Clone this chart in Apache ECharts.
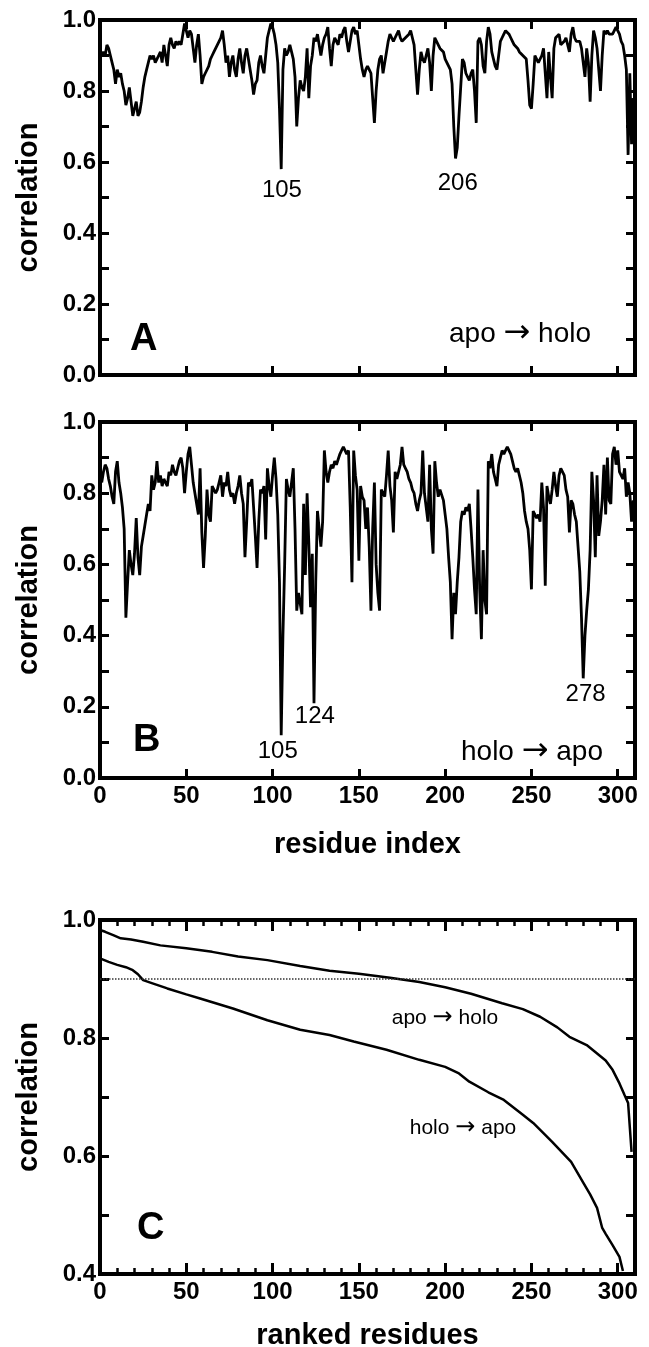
<!DOCTYPE html>
<html><head><meta charset="utf-8">
<script src="https://cdn.jsdelivr.net/npm/echarts@6/dist/echarts.min.js"></script>
<style>html,body{margin:0;padding:0;background:#fff}#c{width:649px;height:1347px}</style>
</head><body><div id="c"></div>
<script>
// Panel A: apo -> holo correlation per residue (residues 1..309)
const apoToHolo = [
0.90,0.91,0.90,0.93,0.92,0.90,0.88,0.86,0.82,0.86,
0.84,0.85,0.82,0.80,0.76,0.78,0.81,0.77,0.73,0.75,
0.77,0.73,0.74,0.77,0.81,0.84,0.86,0.88,0.90,0.89,
0.90,0.88,0.89,0.90,0.91,0.88,0.93,0.90,0.87,0.93,
0.95,0.93,0.92,0.94,0.93,0.94,0.93,0.96,0.99,0.97,
0.95,0.97,0.96,0.92,0.88,0.93,0.96,0.90,0.82,0.84,
0.85,0.85,0.87,0.89,0.90,0.91,0.92,0.93,0.94,0.95,
0.97,0.93,0.88,0.90,0.84,0.88,0.90,0.86,0.84,0.89,
0.92,0.88,0.85,0.90,0.92,0.89,0.86,0.83,0.79,0.82,
0.83,0.88,0.90,0.87,0.85,0.90,0.95,0.97,0.99,0.98,
0.96,0.93,0.88,0.75,0.58,0.86,0.92,0.90,0.91,0.93,
0.91,0.89,0.84,0.70,0.78,0.83,0.81,0.80,0.84,0.92,
0.78,0.87,0.90,0.95,0.94,0.96,0.93,0.90,0.93,0.95,
0.96,0.98,0.92,0.87,0.93,0.95,0.94,0.93,0.96,0.95,
0.97,0.98,0.94,0.91,0.94,0.97,0.98,0.96,0.97,0.93,
0.89,0.86,0.84,0.86,0.87,0.86,0.85,0.78,0.71,0.80,
0.86,0.89,0.90,0.85,0.88,0.91,0.94,0.96,0.95,0.94,
0.95,0.96,0.97,0.95,0.94,0.94,0.95,0.95,0.96,0.97,
0.95,0.93,0.86,0.79,0.86,0.91,0.89,0.88,0.90,0.92,
0.88,0.80,0.90,0.95,0.94,0.93,0.92,0.92,0.91,0.89,
0.88,0.87,0.86,0.82,0.70,0.61,0.64,0.73,0.81,0.89,
0.88,0.85,0.84,0.83,0.85,0.86,0.80,0.71,0.94,0.95,
0.93,0.87,0.85,0.94,0.98,0.96,0.91,0.89,0.87,0.86,
0.90,0.94,0.95,0.96,0.97,0.97,0.96,0.95,0.94,0.93,
0.93,0.92,0.91,0.91,0.90,0.90,0.89,0.83,0.76,0.75,
0.82,0.90,0.89,0.88,0.88,0.90,0.92,0.85,0.78,0.91,
0.84,0.78,0.92,0.95,0.95,0.96,0.93,0.93,0.94,0.95,
0.93,0.91,0.96,0.98,0.95,0.94,0.94,0.94,0.92,0.88,
0.84,0.92,0.88,0.77,0.90,0.97,0.95,0.92,0.86,0.80,
0.90,0.97,0.96,0.97,0.96,0.96,0.96,0.97,0.98,0.97,
0.96,0.94,0.93,0.90,0.86,0.62,0.85,0.65,0.78
];
// Panel B: holo -> apo correlation per residue (residues 1..309)
const holoToApo = [
0.83,0.86,0.88,0.87,0.84,0.82,0.79,0.77,0.86,0.89,
0.83,0.80,0.76,0.70,0.45,0.55,0.64,0.60,0.57,0.63,
0.73,0.62,0.57,0.65,0.68,0.71,0.74,0.77,0.75,0.85,
0.81,0.83,0.89,0.83,0.85,0.82,0.84,0.83,0.82,0.86,
0.85,0.88,0.86,0.85,0.87,0.89,0.90,0.87,0.80,0.86,
0.91,0.93,0.88,0.83,0.80,0.80,0.74,0.87,0.69,0.59,
0.68,0.81,0.74,0.72,0.82,0.81,0.80,0.81,0.83,0.85,
0.79,0.83,0.82,0.86,0.81,0.79,0.80,0.77,0.80,0.82,
0.85,0.80,0.77,0.62,0.72,0.83,0.82,0.84,0.76,0.68,
0.59,0.72,0.81,0.80,0.82,0.67,0.87,0.82,0.79,0.85,
0.90,0.84,0.74,0.55,0.12,0.40,0.60,0.84,0.81,0.79,
0.83,0.87,0.70,0.47,0.52,0.49,0.46,0.77,0.57,0.80,
0.66,0.48,0.63,0.21,0.55,0.75,0.70,0.65,0.72,0.92,
0.86,0.83,0.86,0.88,0.87,0.89,0.88,0.88,0.91,0.92,
0.93,0.93,0.91,0.92,0.76,0.55,0.92,0.85,0.81,0.61,
0.82,0.79,0.78,0.70,0.76,0.65,0.47,0.70,0.83,0.60,
0.52,0.47,0.81,0.80,0.79,0.85,0.92,0.82,0.78,0.69,
0.86,0.84,0.84,0.88,0.93,0.88,0.87,0.86,0.84,0.83,
0.81,0.80,0.77,0.75,0.78,0.80,0.92,0.80,0.76,0.72,
0.88,0.70,0.63,0.89,0.83,0.79,0.81,0.81,0.78,0.74,
0.70,0.62,0.55,0.39,0.52,0.46,0.55,0.62,0.72,0.75,
0.74,0.76,0.75,0.77,0.70,0.62,0.53,0.46,0.81,0.53,
0.39,0.64,0.50,0.46,0.89,0.87,0.91,0.86,0.84,0.82,
0.88,0.90,0.92,0.91,0.92,0.93,0.93,0.91,0.89,0.87,
0.86,0.87,0.85,0.83,0.80,0.75,0.72,0.70,0.64,0.53,
0.75,0.74,0.73,0.74,0.72,0.83,0.76,0.54,0.82,0.79,
0.77,0.81,0.86,0.82,0.79,0.85,0.87,0.86,0.85,0.81,
0.79,0.69,0.78,0.77,0.74,0.72,0.65,0.58,0.45,0.28,
0.40,0.47,0.53,0.64,0.86,0.78,0.62,0.85,0.68,0.72,
0.78,0.88,0.74,0.90,0.78,0.77,0.91,0.93,0.88,0.92,
0.86,0.86,0.84,0.87,0.79,0.83,0.80,0.72,0.78
];
// Panel C: ranked correlations
const rankedApoRank = [0,3,8,12,18,25,35,50,65,80,97,116,133,150,168,185,200,215,233,245,255,265,272,282,293,297,301,304,306,308];
const rankedApoCorr = [0.983,0.980,0.974,0.969,0.967,0.963,0.957,0.952,0.946,0.938,0.932,0.922,0.914,0.909,0.902,0.895,0.886,0.875,0.859,0.849,0.836,0.818,0.802,0.788,0.762,0.746,0.723,0.703,0.690,0.607];
const rankedHoloRank = [0,5,10,15,19,22,25,30,39,50,58,77,97,116,133,147,166,185,200,208,214,225,234,245,251,262,273,280,284,288,291,293,297,301,303];
const rankedHoloCorr = [0.935,0.929,0.924,0.920,0.915,0.908,0.898,0.893,0.884,0.874,0.867,0.850,0.830,0.814,0.805,0.794,0.780,0.763,0.751,0.740,0.726,0.708,0.695,0.670,0.656,0.624,0.590,0.555,0.535,0.512,0.478,0.468,0.449,0.429,0.405];
const threshold = 0.9;
// Peak annotations: [label, residue, correlation at label centre]
const peaksA = [['105',105.4,0.521],['206',207.3,0.541]];
const peaksB = [['105',103,0.075],['124',124.5,0.173],['278',281.4,0.235]];
const xTickStep = 50, xMinorStep = 10, xMax = 310;

const FONT = '"Liberation Sans", Arial, Helvetica, sans-serif';
const ARROW_FONT = '"DejaVu Sans", sans-serif';
const chart = echarts.init(document.getElementById('c'), null, {renderer:'canvas'});

const gridBase = {show:true, borderColor:'#000', borderWidth:4, backgroundColor:'transparent', containLabel:false, outerBoundsMode:'none'};
const grids = [
  Object.assign({left:100, top:20, width:535, height:355}, gridBase),
  Object.assign({left:100, top:422, width:535, height:356}, gridBase),
  Object.assign({left:100, top:920, width:535, height:354}, gridBase)
];
const tickStyle = (len, w) => ({show:true, inside:true, length:len, lineStyle:{color:'#000', width:w}});
const xLabel = {show:true, margin:6, color:'#000', fontSize:24, fontWeight:'bold', fontFamily:FONT,
  formatter: v => (v % xTickStep === 0 ? String(v) : '')};
const yLabel = {show:true, margin:4, color:'#000', fontSize:24, fontWeight:'bold', fontFamily:FONT,
  formatter: v => { const t = Math.round(v*10); return t % 2 === 0 ? (t/10).toFixed(1) : ''; }};
const nameStyle = {fontSize:29, fontWeight:'bold', color:'#000', fontFamily:FONT};

function xAx(grid, pos, step, tick, label, name, gap) {
  return {type:'value', gridIndex:grid, position:pos, min:0, max:xMax, interval:step,
    axisLine:{show:false, onZero:false}, splitLine:{show:false},
    axisTick:tick, axisLabel: label ? xLabel : {show:false},
    name: name || '', nameLocation:'middle', nameGap: gap || 0, nameTextStyle:nameStyle};
}
function yAx(grid, pos, min, label) {
  return {type:'value', gridIndex:grid, position:pos, min:min, max:1.0, interval:0.1,
    axisLine:{show:false, onZero:false}, splitLine:{show:false},
    axisTick:tickStyle(9,3), axisLabel: label ? yLabel : {show:false},
    name: label ? 'correlation' : '', nameLocation:'middle', nameGap:57, nameTextStyle:nameStyle};
}

const xAxes = [
  xAx(0,'bottom',xTickStep,tickStyle(9,3),false),
  xAx(0,'top',xTickStep,tickStyle(9,3),false),
  xAx(1,'bottom',xTickStep,tickStyle(9,3),true,'residue index',52),
  xAx(1,'top',xTickStep,tickStyle(9,3),false),
  xAx(2,'bottom',xTickStep,tickStyle(11,3),true,'ranked residues',47),
  xAx(2,'top',xTickStep,tickStyle(11,3),false),
  xAx(2,'bottom',xMinorStep,tickStyle(6,2.5),false),
  xAx(2,'top',xMinorStep,tickStyle(6,2.5),false)
];
const yAxes = [
  yAx(0,'left',0,true), yAx(0,'right',0,false),
  yAx(1,'left',0,true), yAx(1,'right',0,false),
  yAx(2,'left',0.4,true), yAx(2,'right',0.4,false)
];

const perResidue = arr => arr.map((v,i) => [i+1, v]);
const pairs = (xs, ys) => xs.map((x,i) => [x, ys[i]]);
const lineSeries = (data, xi, yi, extra) => Object.assign({type:'line', xAxisIndex:xi, yAxisIndex:yi, data:data,
  symbol:'none', smooth:false, lineStyle:{color:'#000', width:2.8}, z:3, silent:true}, extra||{});
const annot = (peaks, xi, yi) => ({type:'scatter', xAxisIndex:xi, yAxisIndex:yi, symbolSize:1, silent:true,
  itemStyle:{color:'rgba(0,0,0,0)', opacity:1},
  label:{show:true, position:'inside', formatter:'{b}', color:'#000', opacity:1, fontSize:24, fontFamily:FONT},
  data: peaks.map(p => ({name:p[0], value:[p[1], p[2]]})), z:4});

const txt = (s, x, y, size, bold) => ({type:'text', x:x, y:y, z:10, silent:true,
  style:{text:s, font:(bold?'bold ':'')+size+'px '+FONT, fill:'#000', align:'left', verticalAlign:'middle'}});
const arrowTxt = (a, b, x, y, size) => ({type:'text', x:x, y:y, z:10, silent:true,
  style:{text:'{t|'+a+' }{r|\u2192}{t| '+b+'}', align:'center', verticalAlign:'middle', fill:'#000',
    rich:{t:{fontSize:size, fontFamily:FONT, fill:'#000', color:'#000'},
          r:{fontSize:Math.round(size*1.15), fontFamily:ARROW_FONT, fill:'#000', color:'#000'}}}});

chart.setOption({
  animation:false,
  backgroundColor:'#fff',
  grid: grids,
  xAxis: xAxes,
  yAxis: yAxes,
  series: [
    lineSeries(perResidue(apoToHolo), 0, 0),
    lineSeries(perResidue(holoToApo), 2, 2),
    lineSeries(pairs(rankedApoRank, rankedApoCorr), 4, 4, {lineStyle:{color:'#000', width:2.5}, markLine:{silent:true, symbol:'none', label:{show:false},
      lineStyle:{color:'#333', type:'dotted', width:1.5}, data:[{yAxis:threshold}]}}),
    lineSeries(pairs(rankedHoloRank, rankedHoloCorr), 4, 4, {lineStyle:{color:'#000', width:2.5}}),
    annot(peaksA, 0, 0),
    annot(peaksB, 2, 2)
  ],
  graphic: [
    txt('A', 130, 340, 38, true),
    txt('B', 133, 741, 38, true),
    txt('C', 137, 1229, 38, true),
    arrowTxt('apo', 'holo', 520, 334, 28),
    arrowTxt('holo', 'apo', 532, 752, 28),
    arrowTxt('apo', 'holo', 445, 1018, 21),
    arrowTxt('holo', 'apo', 463, 1128, 21)
  ]
});
</script></body></html>
